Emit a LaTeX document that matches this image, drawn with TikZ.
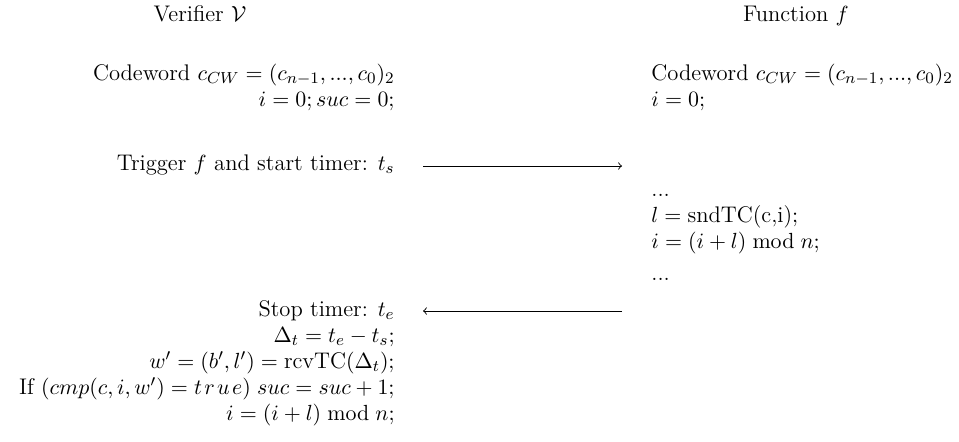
\documentclass[tikz,border=0pt]{standalone}
\usepackage{amsmath}
\begin{document}
\begin{tikzpicture}[x=0.5pt,y=-0.5pt,
  txt/.style={inner sep=0pt,font=\fontsize{11.3}{13.5}\selectfont},
  lft/.style={txt,anchor=base east},
  rgt/.style={txt,anchor=base west},
  hdr/.style={txt,anchor=base},
  msg/.style={line width=0.45pt}]
\useasboundingbox (0,0) rectangle (959,441);
% headers
\node[hdr] (hv) at (200,21) {Verifier $\mathcal{V}$};
\node[hdr] (hf) at (796,21) {Function $f$};
% initial state
\node[lft] (vcw) at (395,80) {Codeword $c_{CW} = (c_{n-1}, ..., c_0)_2$};
\node[lft] (vi0) at (395,106) {$i = 0; suc = 0;$};
\node[rgt] (fcw) at (651,80) {Codeword $c_{CW} = (c_{n-1}, ..., c_0)_2$};
\node[rgt] (fi0) at (651,106) {$i = 0;$};
% trigger
\node[lft] (trig) at (395,170) {Trigger $f$ and start timer: $t_s$};
\coordinate (m1s) at (423,166);
\coordinate (m1e) at (622,166);
\draw[msg,->] (m1s) -- (m1e);
% function body
\node[rgt] (fd1) at (651,196) {...};
\node[rgt] (fl) at (651,222) {$l = \text{sndTC(c,i)};$};
\node[rgt] (fi) at (651,248) {$i = (i + l) \bmod n;$};
\node[rgt] (fd2) at (651,280) {...};
% stop
\coordinate (m2s) at (622,311);
\coordinate (m2e) at (423,311);
\draw[msg,->] (m2s) -- (m2e);
\node[lft] (stop) at (395,316) {Stop timer: $t_e$};
\node[lft] (dlt) at (395,342) {$\Delta_t = t_e - t_s;$};
\node[lft] (rcv) at (395,368) {$w' = (b', l') = \text{rcvTC}(\Delta_t);$};
\node[lft] (cmp) at (395,394) {If $(cmp(c, i, w') = t\mspace{2mu}r\mspace{2mu}u\mspace{2mu}e)\; suc = suc + 1;$};
\node[lft] (vi) at (395,420) {$i = (i + l) \bmod n;$};
\end{tikzpicture}
\end{document}
